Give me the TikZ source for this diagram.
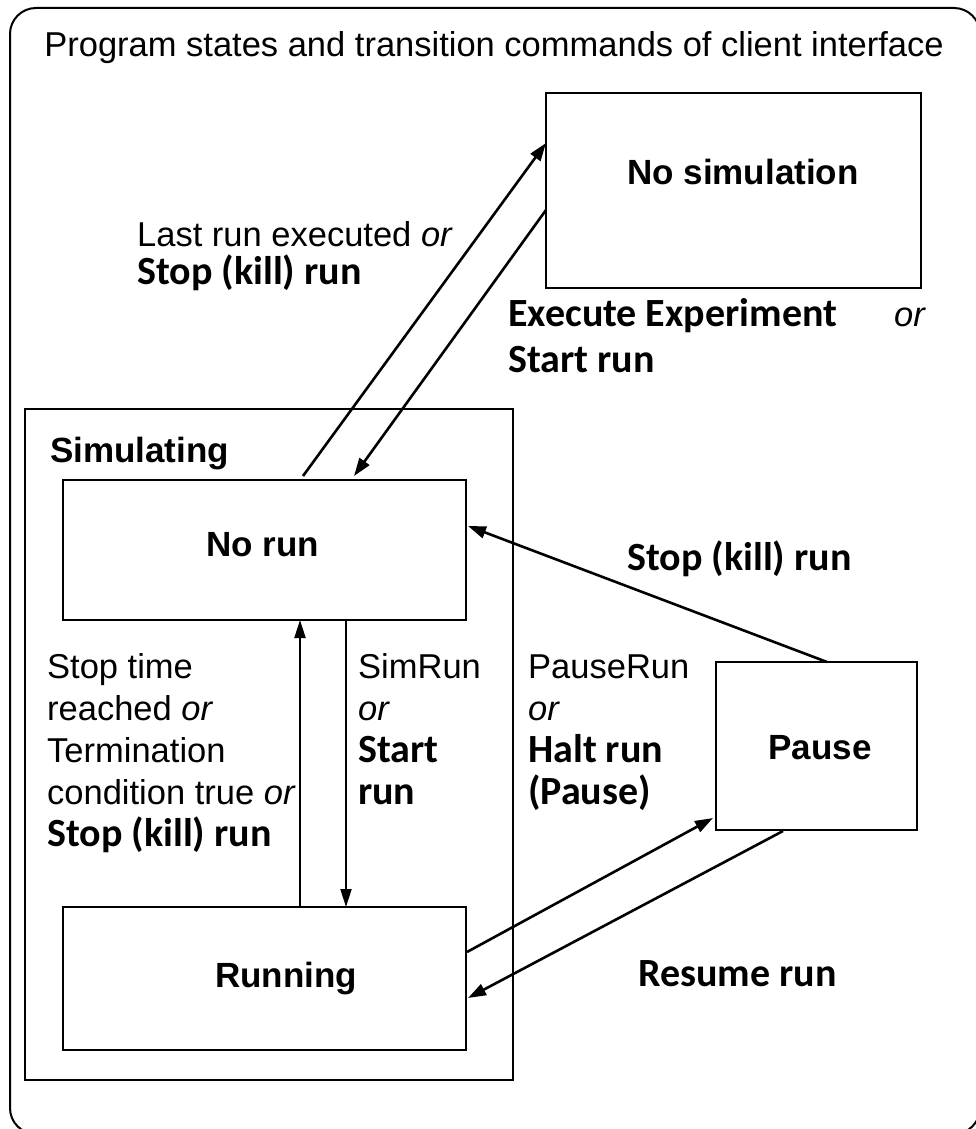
\documentclass[tikz,border=0pt]{standalone}
\usepackage{fontspec}
\setmainfont{Liberation Sans}
\newfontfamily\cmdfont{Carlito}
\usetikzlibrary{arrows.meta}
\begin{document}
\begin{tikzpicture}[x=1pt,y=-1pt,
  statebox/.style={draw,line width=2.6pt},
  groupbox/.style={draw,line width=2pt},
  trans/.style={line width=2.6pt,-{Triangle[length=18pt,width=12pt]}},
  vtrans/.style={line width=2pt,-{Triangle[length=18pt,width=11pt]}},
  txt/.style={inner sep=0pt,font=\fontsize{34.5}{42.5}\selectfont},
  cmd/.style={inner sep=0pt,font=\cmdfont\bfseries\fontsize{40}{42.5}\selectfont},
  title/.style={inner sep=0pt,font=\bfseries\fontsize{35}{40}\selectfont},
]
\useasboundingbox (0,0) rectangle (976,1129);
\begin{scope}
\clip (0,0) rectangle (976,1129);
\draw[line width=2pt,rounded corners=26pt] (10,8) rectangle (980,1134);
\end{scope}

% heading
\node[txt,anchor=base] (head) at (494,57) {Program states and transition commands of client interface};

% states
\draw[statebox] (546,93) rectangle (921,288);
\node[title,anchor=base] (nosimtxt) at (743,184) {No simulation};
\coordinate (nosimA) at (546,143);
\coordinate (nosimB) at (546,210);

\draw[groupbox] (25,409) rectangle (513,1080);
\node[title,anchor=base west] (simtxt) at (50,462) {Simulating};

\draw[statebox] (63,480) rectangle (466,620);
\node[title,anchor=base] (noruntxt) at (263,556) {No run};

\draw[statebox] (63,907) rectangle (466,1050);
\node[title,anchor=base] (runtxt) at (286,987) {Running};

\draw[statebox] (716,662) rectangle (917,830);
\node[title,anchor=base] (pausetxt) at (820,759) {Pause};

% connector end points on the box borders
\coordinate (norunTopA) at (303,476);
\coordinate (norunTopB) at (354,476);
\coordinate (norunRight) at (468,526);
\coordinate (norunBotA) at (300,620);
\coordinate (norunBotB) at (346,620);
\coordinate (runTopA) at (300,907);
\coordinate (runTopB) at (346,907);
\coordinate (runRightA) at (467,952);
\coordinate (runRightB) at (468,998);
\coordinate (pauseTop) at (827,662);
\coordinate (pauseCorner) at (713,818);
\coordinate (pauseBot) at (783,831);

% transitions
\draw[trans] (norunTopA) -- (nosimA);
\draw[trans] (nosimB) -- (norunTopB);
\draw[trans] (pauseTop) -- (norunRight);
\draw[vtrans] (runTopA) -- (norunBotA);
\draw[vtrans] (norunBotB) -- (runTopB);
\draw[trans] (runRightA) -- (pauseCorner);
\draw[trans] (pauseBot) -- (runRightB);

% transition labels
\node[txt,anchor=base west] (l1a) at (137,246) {Last run executed \textit{or}};
\node[cmd,anchor=base west] (l1b) at (137,284) {Stop (kill) run};

\node[cmd,anchor=base west] (l2a) at (508,326) {Execute Experiment};
\node[txt,anchor=base west] (l2or) at (894,326) {\textit{or}};
\node[cmd,anchor=base west] (l2b) at (508,372) {Start run};

\node[cmd,anchor=base west] (l3) at (627,570) {Stop (kill) run};

\node[txt,anchor=base west] (l4a) at (47,678) {Stop time};
\node[txt,anchor=base west] (l4b) at (47,720) {reached \textit{or}};
\node[txt,anchor=base west] (l4c) at (47,762) {Termination};
\node[txt,anchor=base west] (l4d) at (47,804) {condition true \textit{or}};
\node[cmd,anchor=base west] (l4e) at (47,846) {Stop (kill) run};

\node[txt,anchor=base west] (l5a) at (358,678) {SimRun};
\node[txt,anchor=base west] (l5b) at (358,720) {\textit{or}};
\node[cmd,anchor=base west] (l5c) at (358,762) {Start};
\node[cmd,anchor=base west] (l5d) at (358,804) {run};

\node[txt,anchor=base west] (l6a) at (528,678) {PauseRun};
\node[txt,anchor=base west] (l6b) at (528,720) {\textit{or}};
\node[cmd,anchor=base west] (l6c) at (528,762) {Halt run};
\node[cmd,anchor=base west] (l6d) at (528,804) {(Pause)};

\node[cmd,anchor=base west] (l7) at (638,986) {Resume run};
\end{tikzpicture}
\end{document}
